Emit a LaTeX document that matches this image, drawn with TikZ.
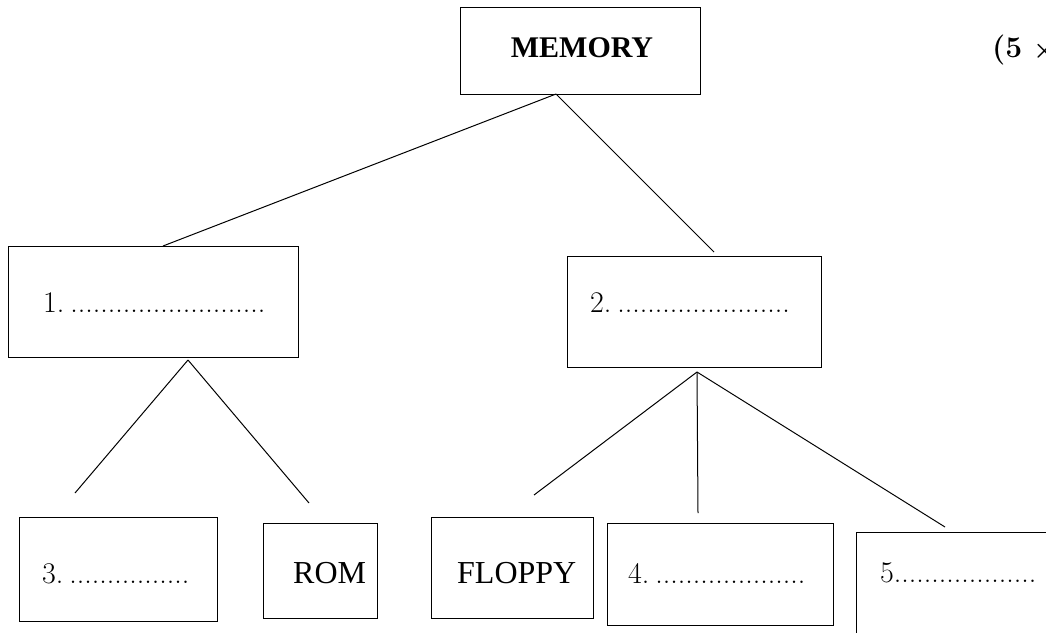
\documentclass[tikz,border=0pt]{standalone}
\usepackage{fontspec}
\newfontfamily\timesfont{Liberation Serif}
\tikzset{
  box/.style={draw, line width=1.3pt, anchor=north west, inner sep=0pt},
  lbl/.style={anchor=base west, inner sep=0pt, font=\fontsize{30}{36}\selectfont},
  wordlbl/.style={anchor=base west, inner sep=0pt, font=\timesfont\fontsize{32}{38}\selectfont},
  link/.style={line width=1pt}
}
\begin{document}
\begin{tikzpicture}[x=1pt,y=-1pt]
  \useasboundingbox (0,0) rectangle (1046,632);
  \clip (0,0) rectangle (1046,632);
%%
  % Node: MEMORY
  \node[box, minimum width=240pt, minimum height=87pt] (memory) at (460,7) {};
  \node[anchor=base, inner sep=0pt, font=\timesfont\bfseries\fontsize{30}{36}\selectfont] (memory-t) at (582,57) {MEMORY};
  \node[anchor=base west, inner sep=0pt, font=\bfseries\fontsize{30}{36}\selectfont] (marks) at (992,57) {(5 {\boldmath$\times$}};
  % Node: 1.
  \node[box, minimum width=290pt, minimum height=111pt] (one) at (8,246) {};
  \node[lbl] (one-t) at (43,312) {1.\hspace{6pt}..........................};
  % Node: 2.
  \node[box, minimum width=254pt, minimum height=111pt] (two) at (567,256) {};
  \node[lbl] (two-t) at (590,312) {2.\hspace{6pt}.......................};
  % Node: 3.
  \node[box, minimum width=198pt, minimum height=104pt] (three) at (19,517) {};
  \node[lbl] (three-t) at (42,583) {3.\hspace{6pt}................};
  % Node: ROM
  \node[box, minimum width=114pt, minimum height=95pt] (rom) at (263,523) {};
  \node[wordlbl] (rom-t) at (293,583) {ROM};
  % Node: FLOPPY
  \node[box, minimum width=162pt, minimum height=101pt] (floppy) at (431,517) {};
  \node[wordlbl] (floppy-t) at (457,583) {FLOPPY};
  % Node: 4.
  \node[box, minimum width=226pt, minimum height=102pt] (four) at (607,523) {};
  \node[lbl] (four-t) at (628,583) {4.\hspace{6pt}....................};
  % Node: 5.
  \node[box, minimum width=250pt, minimum height=130pt] (five) at (856,532) {};
  \node[lbl] (five-t) at (880,582) {5...................};
%
  % free ends of the edges
  \coordinate (memory-s) at (556,94);
  \coordinate (one-n) at (163,246);
  \coordinate (two-n) at (714,252);
  \coordinate (one-s) at (188,360);
  \coordinate (three-n) at (75,493);
  \coordinate (rom-n) at (309,503);
  \coordinate (two-s) at (697,372);
  \coordinate (floppy-n) at (534,495);
  \coordinate (four-n) at (698,513);
  \coordinate (five-n) at (945,527);
  % Edge: MEMORY -> 1.
  \draw[link] (memory-s) -- (one-n);
  % Edge: MEMORY -> 2.
  \draw[link] (memory-s) -- (two-n);
  % Edge: 1. -> 3.
  \draw[link] (one-s) -- (three-n);
  % Edge: 1. -> ROM
  \draw[link] (one-s) -- (rom-n);
  % Edge: 2. -> FLOPPY
  \draw[link] (two-s) -- (floppy-n);
  % Edge: 2. -> 4.
  \draw[link] (two-s) -- (four-n);
  % Edge: 2. -> 5.
  \draw[link] (two-s) -- (five-n);
\end{tikzpicture}
\end{document}
